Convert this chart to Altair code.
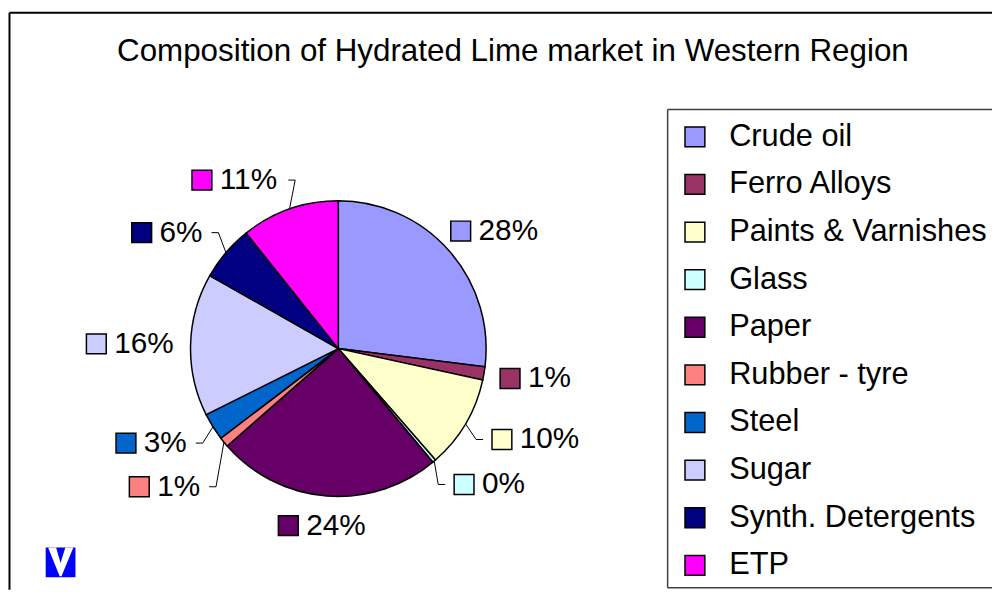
import altair as alt
import pandas as pd

# ---------------- data ----------------
CATEGORIES = ["Crude oil", "Ferro Alloys", "Paints & Varnishes", "Glass", "Paper",
              "Rubber - tyre", "Steel", "Sugar", "Synth. Detergents", "ETP"]
SHARES = [26.97, 1.45, 10.17, 0.36, 24.6, 1.08, 3.0, 15.6, 6.06, 10.72]
LABELS = ["28%", "1%", "10%", "0%", "24%", "1%", "3%", "16%", "6%", "11%"]
COLORS = ["#9999FF", "#993366", "#FFFFCC", "#CCFFFF", "#660066",
          "#FF8080", "#0066CC", "#CCCCFF", "#000080", "#FF00FF"]
LEADER = ["Paints & Varnishes", "Glass", "Rubber - tyre", "Steel",
          "Synth. Detergents", "ETP"]
TITLE = "Composition of Hydrated Lime market in Western Region"

df = pd.DataFrame({"category": CATEGORIES, "share": SHARES, "label": LABELS,
                   "idx": list(range(len(CATEGORIES)))})
df["leader"] = df["category"].isin(LEADER)

# ---------------- layout ----------------
W, H = 992, 584
FONT = "Liberation Sans"
CX, CY, R = 333, 341, 149
LFS = 30  # label font size

base = alt.Chart(df)

pie = base.mark_arc(radius=R, stroke="black", strokeWidth=1.5).encode(
    theta=alt.Theta("share:Q", stack=True),
    order=alt.Order("idx:Q", sort="ascending"),
    color=alt.Color(
        "category:N",
        scale=alt.Scale(domain=CATEGORIES, range=COLORS),
        legend=alt.Legend(
            orient="none", legendX=665, legendY=100, title=None,
            symbolType="square", symbolSize=400, symbolStrokeColor="black",
            symbolStrokeWidth=1.5, symbolOpacity=1,
            labelFont=FONT, labelFontSize=31, labelColor="black",
            labelOffset=19, rowPadding=16, padding=12, labelLimit=400,
        ),
    ),
    x=alt.value(CX),
    y=alt.value(CY),
)

lab = (
    base.transform_joinaggregate(total="sum(share)")
    .transform_window(cum="sum(share)", sort=[alt.SortField("idx")], frame=[None, 0])
    .transform_calculate(mid="2*PI*(datum.cum - datum.share/2)/datum.total")
    .transform_calculate(s="sin(datum.mid)", c="cos(datum.mid)",
                         rr="datum.leader ? 180 : 166",
                         w=f"28 + (length(datum.label)-1)*{0.556*LFS} + {0.889*LFS}")
    .transform_calculate(ax=f"{CX} + datum.rr*datum.s", ay=f"{CY} - datum.rr*datum.c",
                         side="datum.s >= 0 ? 'R' : 'L'")
    .transform_calculate(
        bx="datum.leader ? (datum.side == 'L' ? datum.ax - datum.w/2 : datum.ax + datum.w/2)"
           " : datum.ax + datum.w/2*datum.s",
        by0="datum.leader ? datum.ay : datum.ay - 13*datum.c")
    .transform_window(prevBy="lag(by0)", prevSide="lag(side)",
                      nextBy="lead(by0)", nextSide="lead(side)",
                      sort=[alt.SortField("idx")])
    .transform_calculate(
        by="datum.side == 'R' ? (datum.prevSide == 'R' ? max(datum.by0, datum.prevBy + 44) : datum.by0)"
           " : (datum.nextSide == 'L' ? max(datum.by0, datum.nextBy + 44) : datum.by0)")
    .transform_calculate(left="datum.bx - datum.w/2")
    .transform_calculate(sx="datum.left + 10", tx="datum.left + 28",
                         ex="datum.side == 'L' ? datum.bx + datum.w/2 + 9 : datum.left - 9")
    .transform_calculate(hx="datum.side == 'L' ? datum.ex + 7 : datum.ex - 7",
                         px=f"{CX} + {R}*datum.s", py=f"{CY} - {R}*datum.c")
)

swatches = lab.mark_square(size=400, stroke="black", strokeWidth=1.5, opacity=1, filled=True).encode(
    x=alt.X("sx:Q", scale=None, axis=None),
    y=alt.Y("by:Q", scale=None, axis=None),
    color=alt.Color("category:N", scale=alt.Scale(domain=CATEGORIES, range=COLORS), legend=None),
)

texts = lab.mark_text(align="left", baseline="middle", font=FONT, fontSize=LFS, color="black").encode(
    x=alt.X("tx:Q", scale=None, axis=None),
    y=alt.Y("by:Q", scale=None, axis=None),
    text="label:N",
)

lead_lab = lab.transform_filter("datum.leader")
lead_h = lead_lab.mark_rule(color="black", strokeWidth=1).encode(
    x=alt.X("ex:Q", scale=None, axis=None), x2="hx:Q",
    y=alt.Y("by:Q", scale=None, axis=None), y2="by:Q",
)
lead_d = lead_lab.mark_rule(color="black", strokeWidth=1).encode(
    x=alt.X("hx:Q", scale=None, axis=None), x2="px:Q",
    y=alt.Y("by:Q", scale=None, axis=None), y2="py:Q",
)

one = pd.DataFrame({"t": [TITLE]})
title = alt.Chart(one).mark_text(align="center", baseline="alphabetic", font=FONT,
                                 fontSize=31.6, color="black").encode(
    text="t:N", x=alt.value(509), y=alt.value(51.5))

frame_left = alt.Chart(one).mark_rule(color="black", strokeWidth=2).encode(
    x=alt.value(1.5), y=alt.value(2.5), y2=alt.value(H))
frame_top = alt.Chart(one).mark_rule(color="black", strokeWidth=2).encode(
    x=alt.value(1.5), x2=alt.value(W), y=alt.value(2.5))

leg_top = alt.Chart(one).mark_rule(color="#404040", strokeWidth=1.5).encode(
    x=alt.value(665), x2=alt.value(W), y=alt.value(100))
leg_left = alt.Chart(one).mark_rule(color="#404040", strokeWidth=1.5).encode(
    x=alt.value(665), y=alt.value(100), y2=alt.value(582))
leg_bot = alt.Chart(one).mark_rule(color="#404040", strokeWidth=1.5).encode(
    x=alt.value(665), x2=alt.value(W), y=alt.value(582))

logo_sq = alt.Chart(one).mark_point(shape="M-1,-1L1,-1L1,1L-1,1Z", filled=True, size=900,
                                    color="#0000FF", opacity=1).encode(
    x=alt.value(53), y=alt.value(556.5))
logo_v = alt.Chart(one).mark_point(
    shape="M-0.84,-1L-0.3,-1L0,0.05L0.32,-1L0.86,-1L0.06,0.93L-0.06,0.93Z",
    filled=True, size=900, color="white", opacity=1).encode(
    x=alt.value(53), y=alt.value(556.5))

chart = alt.layer(
    frame_left, frame_top, leg_top, leg_left, leg_bot, title,
    pie, lead_h, lead_d, swatches, texts, logo_sq, logo_v,
).properties(
    width=W, height=H, padding=0,
    autosize=alt.AutoSizeParams(type="none"),
    background="white",
).configure_view(stroke=None)

chart.save("out.html", embed_options={"renderer": "svg", "actions": False})
